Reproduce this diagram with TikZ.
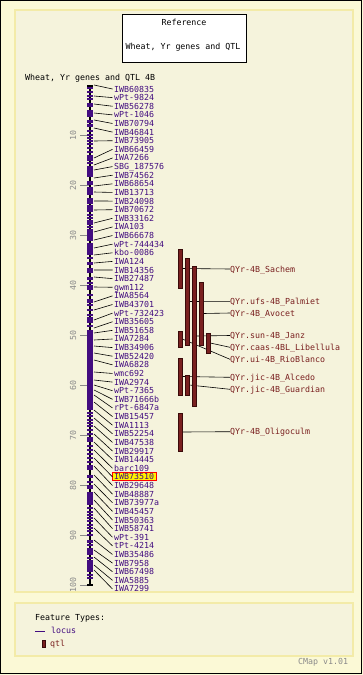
\documentclass[tikz,border=0pt]{standalone}
\usepackage{fontspec}
\newfontfamily\cmapfont{DejaVu Sans Mono}
\usetikzlibrary{calc}
\definecolor{bgouter}{HTML}{FBF9D6}
\definecolor{slotbg}{HTML}{F5F3DC}
\definecolor{slotborder}{HTML}{F3EBA8}
\definecolor{locuscol}{HTML}{420C80}
\definecolor{qtlcol}{HTML}{7A2020}
\definecolor{qtlborder}{HTML}{3A0A0A}
\definecolor{tickgray}{HTML}{8A8A8A}
\pgfdeclarelayer{bg}
\pgfdeclarelayer{lines}
\pgfsetlayers{bg,lines,main}
\tikzset{
  txt/.style={font=\cmapfont\fontsize{8.3}{10}\selectfont, inner sep=0pt, text height=6pt, text depth=0pt},
  loclabel/.style={txt, anchor=west, text=locuscol},
  qtllabel/.style={txt, anchor=west, text=qtlcol},
  conn/.style={draw=black, line width=0.6pt},
  qtlbar/.style={draw=qtlborder, fill=qtlcol, line width=0.6pt, minimum width=4pt, inner sep=0pt},
  panel/.style={fill=slotbg, draw=slotborder, line width=1.2pt},
}
\begin{document}
\begin{tikzpicture}[x=1pt,y=-1pt]
\useasboundingbox (0,0) rectangle (363,675);
\begin{pgfonlayer}{bg}
  \fill[bgouter] (0,0) rectangle (363,675);
  \draw[black, line width=1.2pt] (0.6,0.6) rectangle (361.8,673.8);
  \draw[panel] (15,10) rectangle (353,592);
  \draw[panel] (15,603) rectangle (353,656);
\end{pgfonlayer}

% title box
\node[draw=black, fill=white, line width=0.8pt, minimum width=124pt, minimum height=48pt, inner sep=0pt] (titlebox) at (184,38) {};
\node[txt, text=black] (t1) at (184,22) {Reference};
\node[txt, text=black] (t2) at (183,46) {Wheat, Yr genes and QTL};
\node[txt, text=black, anchor=west] (maptitle) at (25,77) {Wheat, Yr genes and QTL 4B};

% scale ticks
\foreach \v in {10,20,...,100} {
  \pgfmathsetmacro\ty{85+5*\v}
  \coordinate (tk\v a) at (80,\ty);
  \coordinate (tk\v b) at (89,\ty);
  \draw[tickgray, line width=0.6pt] (tk\v a) -- (tk\v b);
  \node[txt, text=tickgray, rotate=90] (tl\v) at (73,\ty) {\v};
}

% chromosome backbone
\coordinate (chrtop) at (90,85);
\coordinate (chrbot) at (90,585);
\draw[black, line width=1.6pt] (chrtop) -- (chrbot);
\fill[black] (87,84.5) rectangle (93,86.5);
\fill[black] (87,584.2) rectangle (93,585.8);

% purple blocks
\foreach \a/\b in {103/107,110/117,120/123,124/127,166/177,187/195,205/212,243/255,262/265,268/273,277/280,285/290,330/410,437/442,465/470,475/478,492/505,540/543,548/555,560/572}
  \fill[locuscol] (87,\a) rectangle (93,\b);
% purple ticks
\foreach \y in {88,92,96,99,113,131,135,138,141,144,148,152,156,158,160,163,170,182,184,192,199,201,203,210,215,218,221,223,224,227,230,232,234,236,238,240,248,258,283,287,295,300,302,305,310,315,318,320,322,326,413,416,420,423,426,430,434,446,450,454,458,462,482,486,488,508,512,515,518,521,525,528,531,535,545,558,575,578}
  \fill[locuscol] (87,\y-0.8) rectangle (93,\y+0.8);

% highlight
\begin{pgfonlayer}{lines}
  \draw[red, fill=yellow, line width=0.9pt] (112.3,472.5) rectangle (156,480.5);
\end{pgfonlayer}

% loci labels and connectors
\foreach \nm/\cy [count=\i from 0] in {
IWB60835/85, wPt-9824/96, IWB56278/104, wPt-1046/113, IWB70794/120,
IWB46841/128, IWB73905/141, IWB66459/158, IWA7266/165, SBG\_187576/170,
IWB74562/178, IWB68654/186, IWB13713/192, IWB24098/201, IWB70672/210,
IWB33162/223, IWA103/232, IWB66678/240, wPt-744434/248, kbo-0086/255,
IWA124/263, IWB14356/270, IWB27487/277, gwm112/287, IWA8564/302,
IWB43701/310, wPt-732423/320, IWB35605/328, IWB51658/333, IWA7284/340,
IWB34906/346, IWB52420/353, IWA6828/360, wmc692/372, IWA2974/380,
wPt-7365/385, IWB71666b/390, rPt-6847a/395, IWB15457/402, IWA1113/410,
IWB52254/418, IWB47538/426, IWB29917/434, IWB14445/442, barc109/450,
IWB73510/458, IWB29648/466, IWB48887/475, IWB73977a/484, IWB45457/492,
IWB50363/500, IWB58741/508, wPt-391/518, tPt-4214/528, IWB35486/540,
IWB7958/550, IWB67498/557, IWA5885/565, IWA7299/570} {
  \pgfmathsetmacro\ly{89+8.62*\i}
  \node[loclabel] (L\i) at (114,\ly) {\nm};
  \coordinate (C\i) at (94,\cy);
  \begin{pgfonlayer}{lines}
    \draw[conn] (C\i) -- ($(L\i.west)+(-1.5,0)$);
  \end{pgfonlayer}
}

% QTL bars
\node[qtlbar, minimum height=39pt] (B1) at (180,268.5) {};
\node[qtlbar, minimum height=87pt] (B2) at (187,301.5) {};
\node[qtlbar, minimum height=140pt] (B3) at (194,336) {};
\node[qtlbar, minimum height=63pt] (B4) at (201,313.5) {};
\node[qtlbar, minimum height=16pt] (B5) at (180,339) {};
\node[qtlbar, minimum height=20pt] (B6) at (208,343) {};
\node[qtlbar, minimum height=37pt] (B7) at (180,376.5) {};
\node[qtlbar, minimum height=20pt] (B8) at (187,385) {};
\node[qtlbar, minimum height=38pt] (B9) at (180,432) {};

% QTL labels
\node[qtllabel] (Q1) at (230,269) {QYr-4B\_Sachem};
\node[qtllabel] (Q2) at (230,301.3) {QYr.ufs-4B\_Palmiet};
\node[qtllabel] (Q3) at (230,313) {QYr-4B\_Avocet};
\node[qtllabel] (Q4) at (230,335.5) {QYr.sun-4B\_Janz};
\node[qtllabel] (Q5) at (230,347.3) {QYr.caas-4BL\_Libellula};
\node[qtllabel] (Q6) at (230,359.3) {QYr.ui-4B\_RioBlanco};
\node[qtllabel] (Q7) at (230,377.3) {QYr.jic-4B\_Alcedo};
\node[qtllabel] (Q8) at (230,389.3) {QYr.jic-4B\_Guardian};
\node[qtllabel] (Q9) at (230,431.7) {QYr-4B\_Oligoculm};

\begin{pgfonlayer}{lines}
  \draw[conn] (B1.east) -- (Q1.west);
  \draw[conn] (B2.east) -- (Q2.west);
  \draw[conn] (B4.east) -- (Q3.west);
  \draw[conn] (B3.east) -- (Q4.west);
  \draw[conn] (B6.east) -- (Q5.west);
  \draw[conn] (B5.east) -- (Q6.west);
  \draw[conn] (B7.east) -- (Q7.west);
  \draw[conn] (B8.east) -- (Q8.west);
  \draw[conn] (B9.east) -- (Q9.west);
\end{pgfonlayer}

% legend
\node[txt, text=black, anchor=west] (ft) at (35,617) {Feature Types:};
\coordinate (lga) at (35,631);
\coordinate (lgb) at (45,631);
\draw[locuscol, line width=0.8pt] (lga) -- (lgb);
\node[txt, text=locuscol, anchor=west] (lglocus) at (51,630.5) {locus};
\node[qtlbar, minimum width=3.5pt, minimum height=7pt] (lgq) at (44,643.5) {};
\node[txt, text=qtlcol, anchor=west] (lgqtl) at (50,643.5) {qtl};

\node[txt, text=tickgray, anchor=west] (ver) at (298,661) {CMap v1.01};
\end{tikzpicture}
\end{document}
